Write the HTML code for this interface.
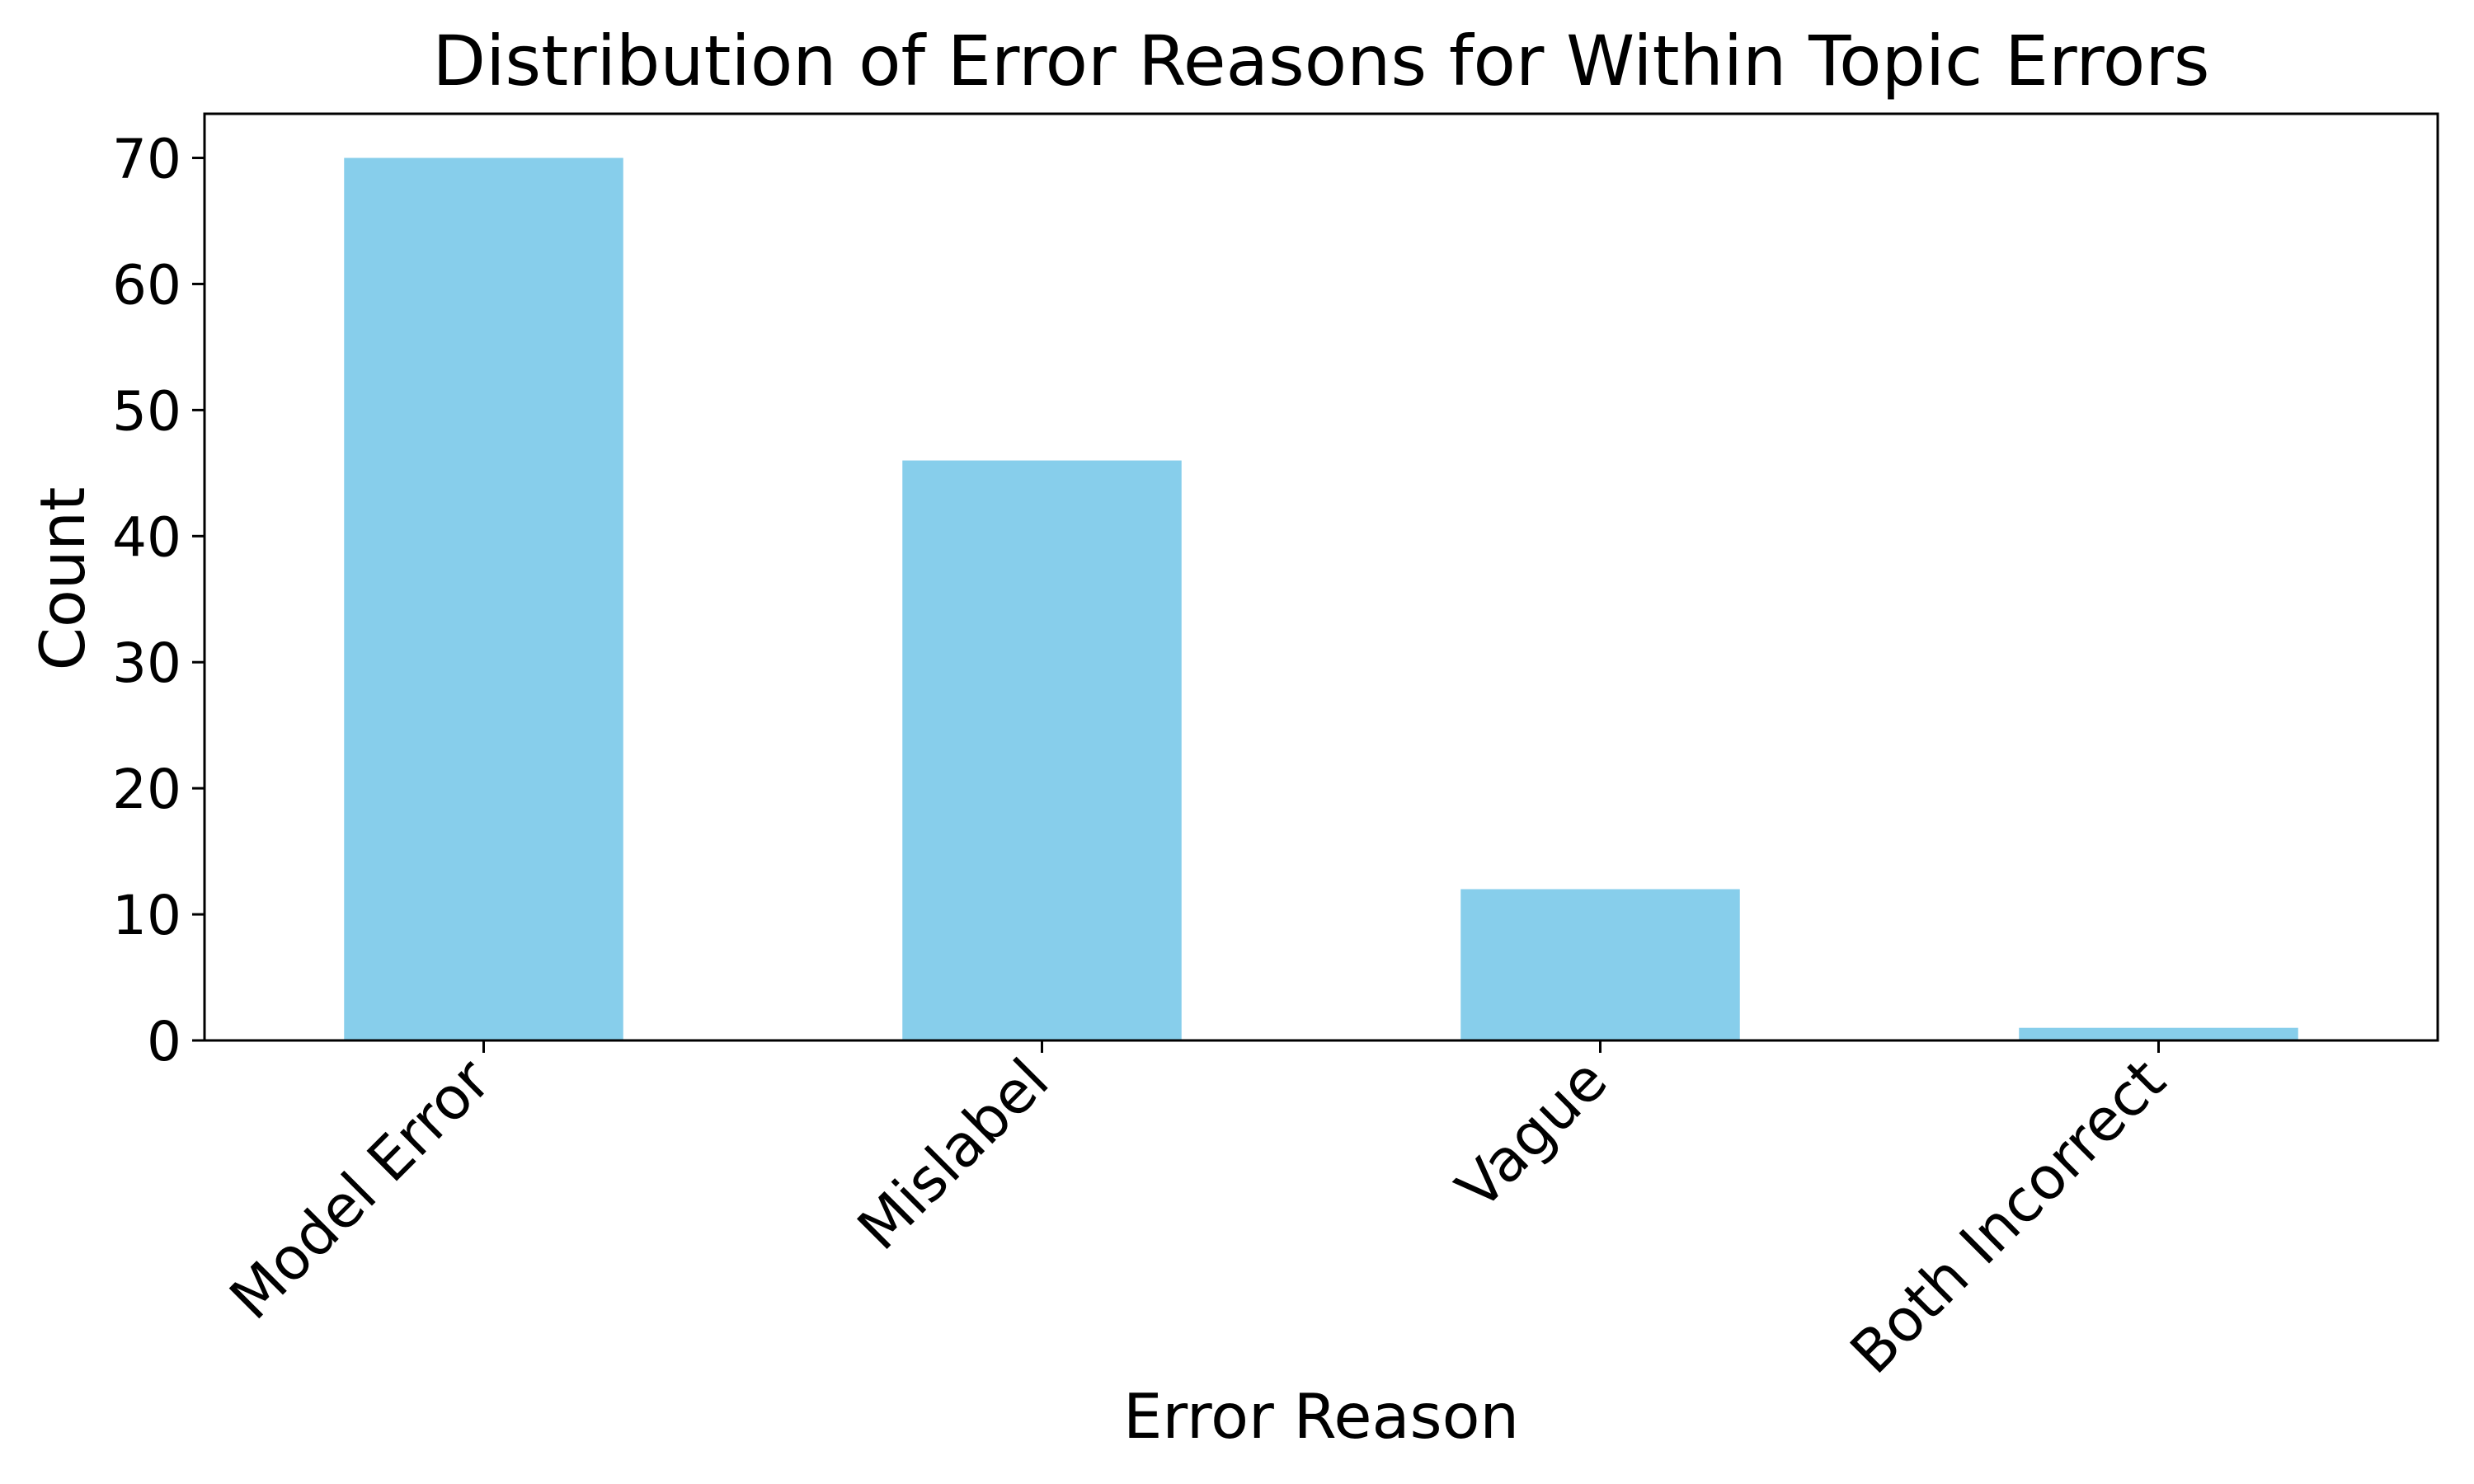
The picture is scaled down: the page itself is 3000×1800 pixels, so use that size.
<!DOCTYPE html>
<html><head><meta charset="utf-8"><style>body{margin:0;background:#fff}svg{display:block}text{font-family:"DejaVu Sans","Liberation Sans",sans-serif;fill:#000}</style></head>
<body>
<svg id="chart" width="3000" height="1800" xmlns="http://www.w3.org/2000/svg">
<rect width="3000" height="1800" fill="#fff"/>
<g id="plot"></g>
<text x="1602" y="103" font-size="84" text-anchor="middle">Distribution of Error Reasons for Within Topic Errors</text>
<text x="1602" y="1744" font-size="75" text-anchor="middle">Error Reason</text>
<text x="0" y="0" font-size="75" text-anchor="middle" transform="translate(102,702) rotate(-90)">Count</text>
</svg>
<script>
const categories=["Model Error","Mislabel","Vague","Both Incorrect"];
const counts=[70,46,12,1];
const yTicks=[0,10,20,30,40,50,60,70];
const L=248,R=2956,T=138,B=1262,yMax=73.5;
const xs=i=>L+(i+0.5)*(R-L)/categories.length;
const ys=v=>B-v*(B-T)/yMax;
const NS="http://www.w3.org/2000/svg";
const g=document.getElementById('plot');
function mk(t,a){const e=document.createElementNS(NS,t);for(const k in a)e.setAttribute(k,a[k]);g.appendChild(e);return e;}
const bw=0.5*(R-L)/categories.length;
counts.forEach((v,i)=>{
 const r=mk('rect',{x:xs(i)-bw/2,y:ys(v),width:bw,height:B-ys(v),fill:'#87ceeb'});
 
 
 const tk=mk('line',{x1:xs(i),x2:xs(i),y1:B,y2:B+15,stroke:'#000','stroke-width':3});
 
 
 const tl=mk('text',{'font-size':71,'text-anchor':'end',transform:`translate(${xs(i)+12},${B+53}) rotate(-45)`});
 tl.textContent=categories[i];
 
 
});
yTicks.forEach(v=>{
 const tk=mk('line',{x1:L-15,x2:L,y1:ys(v),y2:ys(v),stroke:'#000','stroke-width':3});
 
 
 const tl=mk('text',{x:L-28,y:ys(v)+24,'font-size':66,'text-anchor':'end'});
 tl.textContent=v;
 
 
});
const fr=mk('rect',{x:L,y:T,width:R-L,height:B-T,fill:'none',stroke:'#000','stroke-width':3});


</script>
</body></html>
